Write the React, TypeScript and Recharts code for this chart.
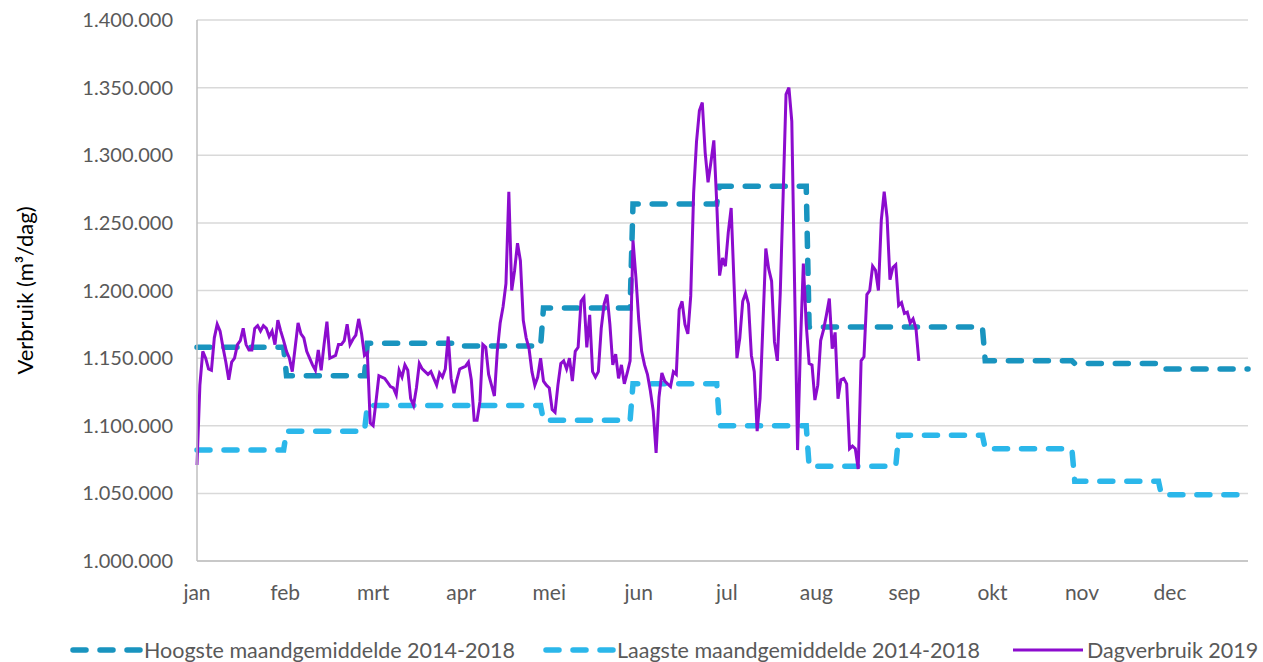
import React from "react"
import { LineChart, Line, XAxis, YAxis, CartesianGrid } from "recharts"

// months and the day (0 = 1 jan) on which each one starts
const MONTHS = ["jan", "feb", "mrt", "apr", "mei", "jun", "jul", "aug", "sep", "okt", "nov", "dec"]
const MONTH_START = [0, 31, 59, 90, 120, 151, 181, 212, 243, 273, 304, 334]
const LAST_DAY = 364
// where the month labels sit on the day axis
const LABEL_DAYS = [0, 30.5, 61, 91.5, 122, 153, 183.5, 214.5, 245, 275.5, 306.5, 337]

const Y_TICKS = [1000000, 1050000, 1100000, 1150000, 1200000, 1250000, 1300000, 1350000, 1400000]

// monthly averages 2014-2018 (x 1000 m3/dag)
const hoogste = [1158, 1137, 1161, 1159, 1187, 1264, 1277, 1173, 1173, 1148, 1146, 1142]
const laagste = [1082, 1096, 1115, 1115, 1104, 1131, 1100, 1070, 1093, 1083, 1059, 1049]

// daily use 2019 from 1 jan (x 1000 m3/dag)
const dagverbruik = [
  1071, 1130, 1155, 1150, 1142, 1141, 1165, 1175, 1170, 1158,
  1147, 1134, 1147, 1150, 1160, 1163, 1172, 1160, 1156, 1156,
  1172, 1174, 1170, 1174, 1172, 1166, 1170, 1160, 1178, 1170,
  1163, 1155, 1150, 1140, 1158, 1176, 1168, 1165, 1155, 1150,
  1145, 1141, 1156, 1141, 1160, 1177, 1150, 1151, 1152, 1160,
  1160, 1163, 1175, 1160, 1164, 1167, 1179, 1168, 1152, 1154,
  1102, 1100, 1118, 1137, 1136, 1135, 1132, 1129, 1128, 1123,
  1141, 1136, 1145, 1141, 1120, 1115, 1128, 1146, 1142, 1140,
  1138, 1140, 1135, 1130, 1139, 1136, 1142, 1166, 1135, 1124,
  1134, 1142, 1143, 1144, 1147, 1134, 1104, 1104, 1118, 1160,
  1158, 1138, 1130, 1122, 1155, 1176, 1188, 1205, 1273, 1200,
  1215, 1235, 1222, 1178, 1165, 1157, 1140, 1130, 1136, 1150,
  1133, 1130, 1128, 1112, 1110, 1130, 1146, 1148, 1142, 1150,
  1133, 1155, 1158, 1192, 1195, 1158, 1182, 1140, 1136, 1140,
  1172, 1190, 1197, 1175, 1145, 1153, 1135, 1145, 1131, 1139,
  1148, 1237, 1210, 1178, 1155, 1145, 1138, 1126, 1111, 1080,
  1121, 1139, 1133, 1131, 1129, 1140, 1138, 1186, 1192, 1175,
  1168, 1196, 1272, 1310, 1333, 1339, 1302, 1280, 1295, 1311,
  1265, 1211, 1224, 1218, 1243, 1261, 1205, 1150, 1165, 1192,
  1198, 1190, 1152, 1140, 1096, 1120, 1175, 1231, 1216, 1207,
  1162, 1148, 1198, 1270, 1345, 1350, 1325, 1200, 1082, 1160,
  1220, 1175, 1146, 1145, 1119, 1130, 1163, 1171, 1182, 1194,
  1157, 1169, 1120, 1134, 1135, 1131, 1083, 1085, 1083, 1068,
  1148, 1151, 1197, 1200, 1218, 1215, 1200, 1252, 1273, 1254,
  1208, 1217, 1219, 1189, 1191, 1183, 1184, 1176, 1179, 1172, 1148,
]

const DARK = "#1994BF"
const LIGHT = "#2BB7EA"
const PURPLE = "#8C0CCE"
const FONT = "Lato, 'Noto Sans', sans-serif"
const TEXT = "#595959"

// one flat piece per month: first day to last day
const steps = (vals: number[]) =>
  vals.flatMap((v, i) => {
    const end = i < 11 ? MONTH_START[i + 1] - 1 : LAST_DAY
    return [
      { day: MONTH_START[i], v: v * 1000 },
      { day: end, v: v * 1000 },
    ]
  })

const highData = steps(hoogste)
const lowData = steps(laagste)
const dayData = dagverbruik.map((v, i) => ({ day: i, v: v * 1000 }))

const fmt = (v: number) => String(v).replace(/\B(?=(\d{3})+(?!\d))/g, ".")

const dash = { strokeWidth: 5.5, strokeDasharray: "13 14", strokeLinecap: "round" as const }

function LegendItem({ color, dashed, label, left }: { color: string; dashed: boolean; label: string; left: number }) {
  return (
    <div style={{ position: "absolute", left, top: 0, display: "flex", alignItems: "center", whiteSpace: "nowrap" }}>
      <svg width={78} height={12}>
        <line
          x1={dashed ? 7 : 4}
          y1={6}
          x2={dashed ? 75 : 74}
          y2={6}
          stroke={color}
          strokeWidth={dashed ? 5.5 : 3}
          strokeDasharray={dashed ? "13 14" : undefined}
          strokeLinecap={dashed ? "round" : "butt"}
        />
      </svg>
      <span>{label}</span>
    </div>
  )
}

export default function App() {
  return (
    <div style={{ position: "absolute", left: 0, top: 0, width: 1263, height: 662, background: "#fff", fontFamily: FONT }}>
      <LineChart width={1263} height={662} margin={{ top: 20, right: 15, bottom: 0, left: 0 }}>
        <CartesianGrid vertical={false} stroke="#D9D9D9" strokeWidth={1.5} />
        <XAxis
          type="number"
          dataKey="day"
          domain={[0, LAST_DAY]}
          ticks={LABEL_DAYS}
          interval={0}
          tickFormatter={(v: number) => MONTHS[LABEL_DAYS.indexOf(v)]}
          tickLine={false}
          tickSize={0}
          tickMargin={24}
          height={101}
          stroke="#BFBFBF"
          strokeWidth={1.5}
          tick={{ fill: TEXT, fontSize: 21, fontFamily: FONT }}
        />
        <YAxis
          type="number"
          domain={[1000000, 1400000]}
          ticks={Y_TICKS}
          interval={0}
          tickFormatter={fmt}
          width={197}
          tickLine={false}
          tickSize={0}
          tickMargin={24}
          stroke="#BFBFBF"
          strokeWidth={1.5}
          tick={{ fill: TEXT, fontSize: 20, fontFamily: FONT }}
          label={{
            value: "Verbruik (m³/dag)",
            angle: -90,
            position: "insideLeft",
            offset: 25,
            style: { textAnchor: "middle", fill: "#000", fontSize: 22, fontFamily: FONT },
          }}
        />
        <Line data={highData} dataKey="v" type="linear" stroke={DARK} {...dash} dot={false} isAnimationActive={false} />
        <Line data={lowData} dataKey="v" type="linear" stroke={LIGHT} {...dash} dot={false} isAnimationActive={false} />
        <Line data={dayData} dataKey="v" type="linear" stroke={PURPLE} strokeWidth={3} dot={false} isAnimationActive={false} />
      </LineChart>
      <div style={{ position: "absolute", left: 0, top: 637, width: 1263, height: 26, fontSize: 21.5, color: TEXT, lineHeight: "26px" }}>
        <LegendItem left={66} color={DARK} dashed label="Hoogste maandgemiddelde 2014-2018" />
        <LegendItem left={539} color={LIGHT} dashed label="Laagste maandgemiddelde 2014-2018" />
        <LegendItem left={1009} color={PURPLE} dashed={false} label="Dagverbruik 2019" />
      </div>
    </div>
  )
}
